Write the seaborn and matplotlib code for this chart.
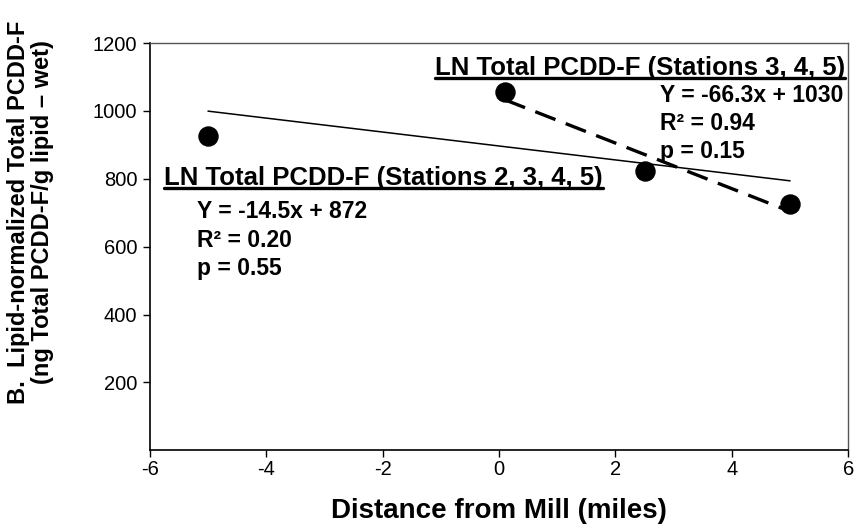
import matplotlib
matplotlib.use("Agg")
import numpy as np
import pandas as pd
import seaborn as sns
import matplotlib.pyplot as plt
from matplotlib.lines import Line2D

# =========================
# DATA
# =========================
distance = [-5.0, 0.1, 2.5, 5.0]
pcdd = [925, 1057, 824, 727]
stations = [2, 3, 4, 5]

df = pd.DataFrame({"distance": distance, "pcdd": pcdd, "station": stations})
df_345 = df[df["station"] >= 3]

x_ticks = [-6, -4, -2, 0, 2, 4, 6]
y_ticks = [200, 400, 600, 800, 1000, 1200]

label_all = "LN Total PCDD-F (Stations 2, 3, 4, 5)"
stats_all = ["Y = -14.5x + 872", "R² = 0.20", "p = 0.55"]
label_345 = "LN Total PCDD-F (Stations 3, 4, 5)"
stats_345 = ["Y = -66.3x + 1030", "R² = 0.94", "p = 0.15"]

# =========================
# STYLE
# =========================
sns.set_style("ticks")
plt.rcParams["font.family"] = ["Liberation Sans", "DejaVu Sans"]
plt.rcParams["axes.unicode_minus"] = False
plt.rcParams.update({"text.color": "black", "axes.labelcolor": "black",
                     "xtick.color": "black", "ytick.color": "black"})

fig = plt.figure(figsize=(8.56, 5.31), dpi=100)
ax = fig.add_axes([0.175, 0.152, 0.816, 0.767])

# regression lines
sns.regplot(x="distance", y="pcdd", data=df, ci=None, scatter=False, ax=ax,
            line_kws={"color": "black", "lw": 1.1})
sns.regplot(x="distance", y="pcdd", data=df_345, ci=None, scatter=False, ax=ax,
            line_kws={"color": "black", "lw": 2.4, "dashes": (6.5, 3.3)})

# points
sns.scatterplot(x="distance", y="pcdd", data=df, ax=ax, color="black",
                s=185, edgecolor="black", zorder=5)

ax.set_xlim(-6, 6)
ax.set_ylim(0, 1200)
ax.set_xticks(x_ticks)
ax.set_yticks(y_ticks)
ax.tick_params(labelsize=14.5, length=5, width=1, direction="out", pad=4)
ax.tick_params(axis="x", pad=2)

for side in ["left", "bottom"]:
    ax.spines[side].set_linewidth(1.2)
    ax.spines[side].set_color("black")
for side in ["top", "right"]:
    ax.spines[side].set_linewidth(1.0)
    ax.spines[side].set_color("#555555")

ax.set_xlabel("Distance from Mill (miles)", fontsize=20, fontweight="bold", labelpad=14)
ax.set_ylabel("B.  Lipid-normalized Total PCDD-F\n(ng Total PCDD-F/g lipid – wet)",
              fontsize=17, fontweight="bold", linespacing=1.05)
ax.yaxis.set_label_coords(-0.137, 0.585)

# =========================
# ANNOTATIONS
# =========================
t1 = fig.text(0.192, 0.665, label_all, fontsize=18.5, fontweight="bold", va="center", ha="left")
t2 = fig.text(0.987, 0.872, label_345, fontsize=18.5, fontweight="bold", va="center", ha="right")

for i, s in enumerate(stats_all):
    fig.text(0.230, 0.601 - i * 0.053, s, fontsize=16.5, fontweight="bold", va="center")
for i, s in enumerate(stats_345):
    fig.text(0.771, 0.821 - i * 0.053, s, fontsize=16.5, fontweight="bold", va="center")

# underline headers
fig.canvas.draw()
inv = fig.transFigure.inverted()
for t in [t1, t2]:
    bb = t.get_window_extent()
    (x0, y0), (x1, y1) = inv.transform([[bb.x0, bb.y0], [bb.x1, bb.y1]])
    fig.add_artist(Line2D([x0, x1], [y0 + 0.003, y0 + 0.003], color="black", lw=2.4,
                          transform=fig.transFigure))

fig.savefig("out.png", dpi=100)
